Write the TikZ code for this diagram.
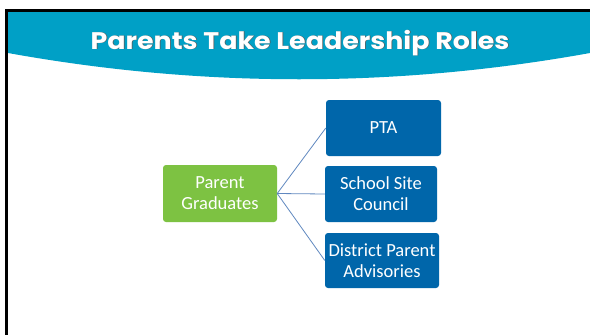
\documentclass[tikz,border=0pt]{standalone}
\usepackage{fontspec}
\setmainfont{Carlito}
\newfontfamily\titlefont{Poppins}
\usetikzlibrary{positioning}
\definecolor{bandteal}{RGB}{0,160,198}
\definecolor{roleblue}{RGB}{0,102,170}
\definecolor{gradgreen}{RGB}{125,194,66}
\definecolor{linkblue}{RGB}{96,136,192}
\tikzset{
	rolebox/.style={rectangle, rounded corners=3pt, fill=roleblue, text=white, align=center, inner sep=1pt, font=\fontsize{18.5}{21}\selectfont},
	gradbox/.style={rolebox, fill=gradgreen},
	titletext/.style={font=\titlefont\bfseries\fontsize{24}{27}\selectfont, anchor=base, xscale=1.12},
	link/.style={draw=linkblue, line width=0.8pt}
}

\begin{document}
\begin{tikzpicture}[x=1pt, y=-1pt]
			%%%%% START %%%%%
			\useasboundingbox (0, 0) rectangle (590, 335);
			\fill[white] (0, 0) rectangle (590, 335);
			
			% title band
			\fill[bandteal] (8, 12) -- (590, 12) -- (590, 53) .. controls (396, 88) and (202, 88) .. (8, 53) -- cycle;
			\draw[line width=3pt] (6.5, 335) -- (6.5, 10.5) -- (590, 10.5);
			
			\node[titletext, text=black!65] (shadow) at (300.8, 49.8) {Parents Take Leadership Roles};
			\node[titletext, text=white] (title) at (300, 49) {Parents Take Leadership Roles};
			
			% boxes
			\node[gradbox, minimum width=114pt, minimum height=57pt] (grad) at (220, 193.5) {Parent\\Graduates};
			\node[rolebox, minimum width=115pt, minimum height=56pt] (pta) at (383.5, 128) {PTA};
			\node[rolebox, minimum width=112pt, minimum height=56pt] (ssc) at (381, 194) {School Site\\Council};
			\node[rolebox, minimum width=114pt, minimum height=55pt] (dpa) at (382, 260.5) {District Parent\\Advisories};
			
			\draw[link] (grad.east) -- (pta.west);
			\draw[link] (grad.east) -- (ssc.west);
			\draw[link] (grad.east) -- (dpa.west);
			%%%%% END %%%%%
\end{tikzpicture}
\end{document}
